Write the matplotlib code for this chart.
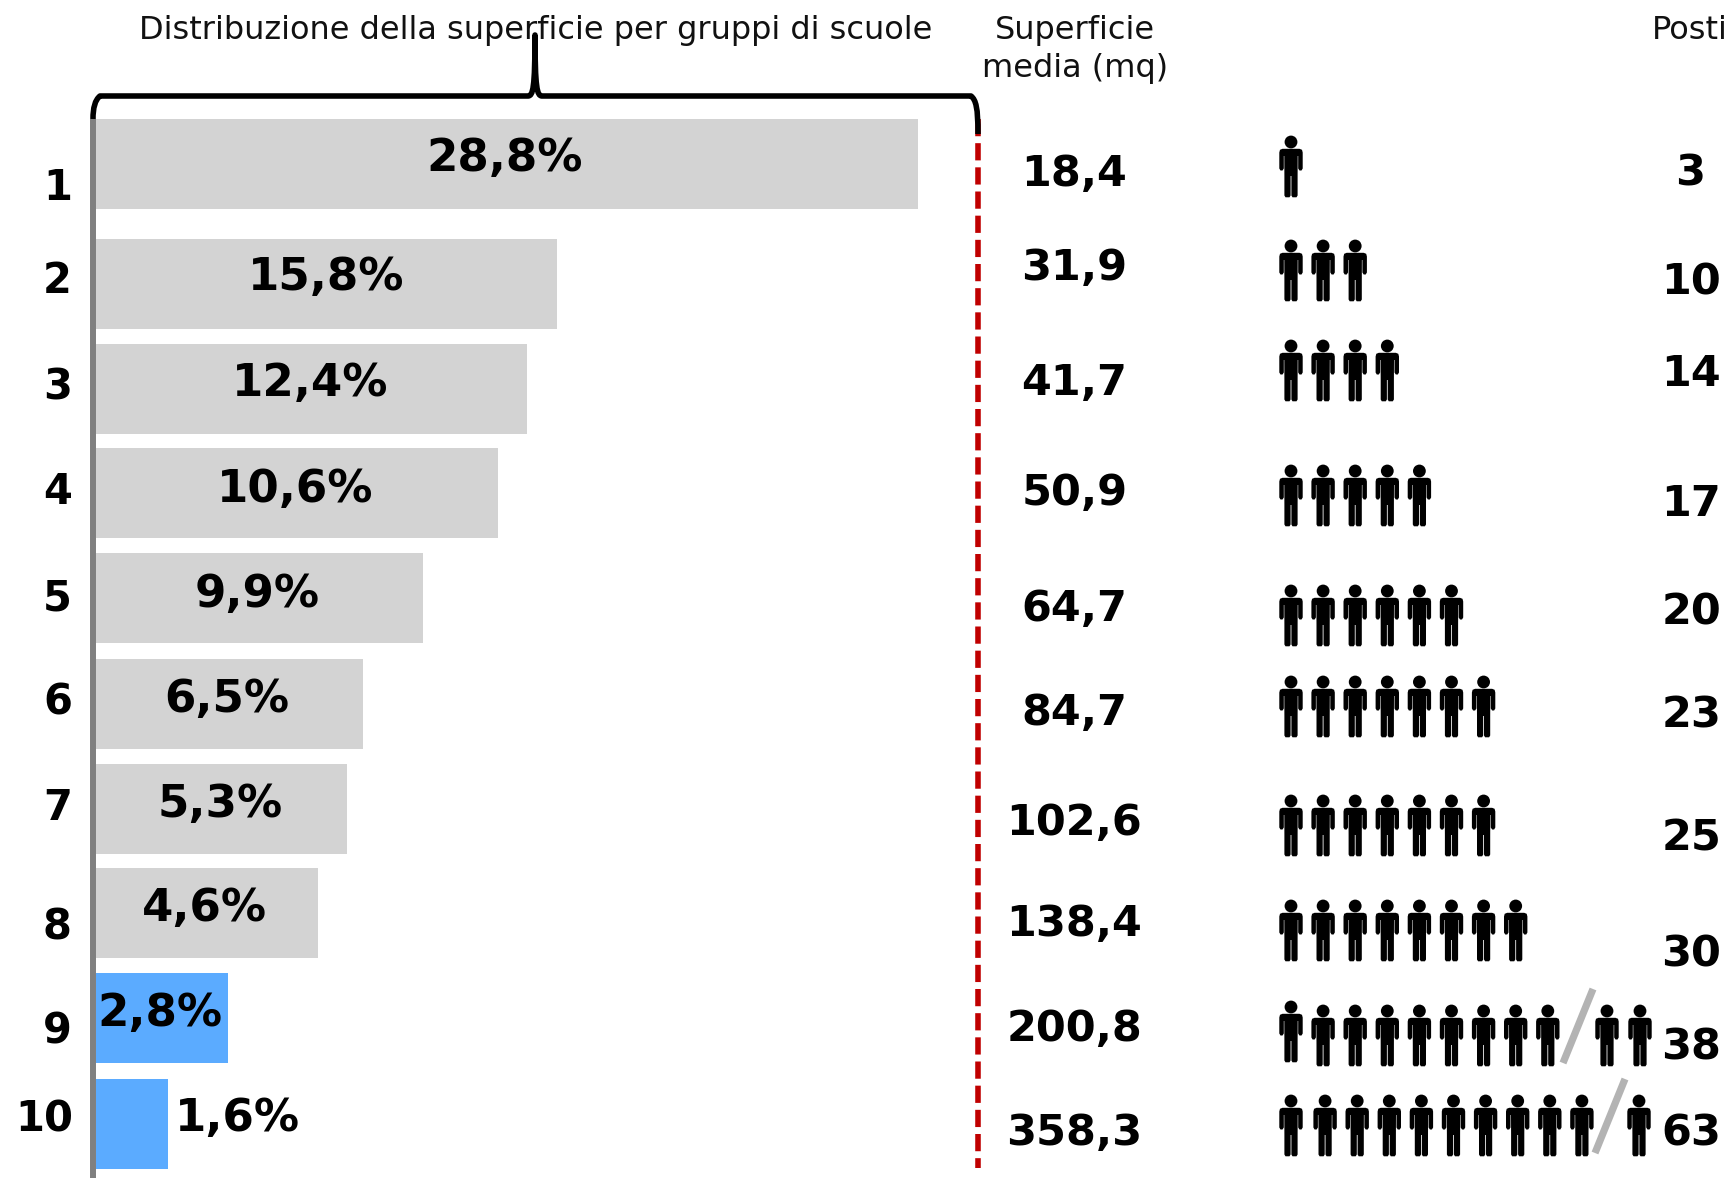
import matplotlib
matplotlib.use("Agg")
import matplotlib.pyplot as plt
from matplotlib.path import Path
from matplotlib.patches import PathPatch, Circle
from matplotlib.transforms import Affine2D

W, H = 1731, 1178
S = 1.104  # layout positions below were read on a 1568-wide view

groups = ["1", "2", "3", "4", "5", "6", "7", "8", "9", "10"]
share_labels = ["28,8%", "15,8%", "12,4%", "10,6%", "9,9%", "6,5%", "5,3%", "4,6%", "2,8%", "1,6%"]
bar_lengths = [28.8, 16.15, 15.1, 14.1, 11.45, 9.35, 8.8, 7.78, 4.62, 2.53]
surface = ["18,4", "31,9", "41,7", "50,9", "64,7", "84,7", "102,6", "138,4", "200,8", "358,3"]
seats = ["3", "10", "14", "17", "20", "23", "25", "30", "38", "63"]
people_before = [1, 3, 4, 5, 6, 7, 7, 8, 9, 10]
people_after = [0, 0, 0, 0, 0, 0, 0, 0, 2, 1]

bar_colors = ["#D3D3D3"] * 8 + ["#5BABFF"] * 2
bar_y = [148.5, 257.5, 352.5, 447, 542, 637.5, 732.5, 827, 922.5, 1018]
group_pos = [(52, 168), (52, 252), (52, 348), (52, 443), (52, 539), (52, 634), (52, 729), (52, 837), (52, 932), (40, 1011)]
share_pos = [(457, 141), (295, 249), (281, 345), (267, 441), (233, 536), (205, 631), (199, 726), (185, 821), (145, 916), (215, 1011)]
surface_y = [155, 240, 344, 444, 549, 643, 743, 834, 929, 1024]
seats_pos = [(1531, 154), (1532, 253), (1532, 336), (1532, 454), (1532, 552), (1532, 645), (1532, 757), (1532, 862), (1532, 946), (1532, 1024)]
people_top = [136, 240, 340, 465, 585, 676, 795, 900, 1005, 1095]

plt.rcParams["font.family"] = ["DejaVu Sans"]
fig = plt.figure(figsize=(W / 100, H / 100), dpi=100, facecolor="white")

# bars
BAR_L, BAR_R = 96, 918
axb = fig.add_axes([BAR_L / W, 0, (BAR_R - BAR_L) / W, 1])
axb.set_xlim(0, bar_lengths[0])
axb.set_ylim(H, 0)
axb.axis("off")
axb.barh([y * S for y in bar_y], bar_lengths, height=90, color=bar_colors, linewidth=0)

# overlay in pixels
ax = fig.add_axes([0, 0, 1, 1])
ax.set_xlim(0, W)
ax.set_ylim(H, 0)
ax.axis("off")
ax.patch.set_alpha(0)

ax.plot([93, 93], [119, H], color="#808080", lw=4.3, solid_capstyle="butt", zorder=2)
ax.plot([978, 978], [119, 1168], color="#C00000", lw=4, dashes=(3.1, 1.25), zorder=2)

brace = Path(
    [(93, 119), (93, 108), (95, 100), (100, 96), (528, 96), (533, 96), (535, 88), (535, 35),
     (535, 88), (537, 96), (542, 96), (971, 96), (976, 100), (978, 108), (978, 134)],
    [Path.MOVETO, Path.CURVE4, Path.CURVE4, Path.CURVE4, Path.LINETO, Path.CURVE4, Path.CURVE4, Path.CURVE4,
     Path.CURVE4, Path.CURVE4, Path.CURVE4, Path.LINETO, Path.CURVE4, Path.CURVE4, Path.CURVE4],
)
ax.add_patch(PathPatch(brace, fc="none", ec="black", lw=4, capstyle="butt", joinstyle="round", zorder=3))

BOLD = dict(fontweight="bold", color="black", ha="center", va="baseline")
for lab, (x, y) in zip(groups, group_pos):
    ax.text(x * S, y * S + 15, lab, fontsize=30, **BOLD)
for lab, (x, y) in zip(share_labels, share_pos):
    ax.text(x * S, y * S + 15, lab, fontsize=32.5, **BOLD)
for lab, y in zip(surface, surface_y):
    ax.text(973 * S, y * S + 15, lab, fontsize=31, **BOLD)
for lab, (x, y) in zip(seats, seats_pos):
    ax.text(x * S, y * S + 15, lab, fontsize=31, **BOLD)

HEAD = dict(fontsize=23, color="#111111", ha="center", va="center")
ax.text(485 * S, 28 * S, "Distribuzione della superficie per gruppi di scuole", **HEAD)
ax.text(974 * S, 28 * S, "Superficie", **HEAD)
ax.text(974 * S, 62 * S, "media (mq)", **HEAD)
ax.text(1496 * S, 28 * S, "Posti", fontsize=23, color="#111111", ha="left", va="center")

body = [(-8.5, 12.8), (8.5, 12.8), (11, 13.8), (11.7, 16.5), (11.7, 32.5), (10.5, 34.5), (8.5, 34.5), (7.2, 32.5), (7.2, 20),
        (6.7, 20), (6.6, 40), (6.6, 59.5), (5.5, 61.3), (1.5, 61.3), (0.4, 59.5), (0.4, 40), (-0.4, 40), (-0.4, 59.5), (-1.5, 61.3),
        (-5.5, 61.3), (-6.6, 59.5), (-6.6, 40), (-6.7, 20), (-7.2, 20), (-7.2, 32.5), (-8.5, 34.5), (-10.5, 34.5), (-11.7, 32.5),
        (-11.7, 16.5), (-11, 13.8), (-8.5, 12.8)]
person_path = Path(body, closed=True)


def person(cx, top):
    ax.add_patch(PathPatch(person_path, fc="black", ec="none",
                           transform=Affine2D().translate(cx, top) + ax.transData, zorder=4))
    ax.add_patch(Circle((cx, top + 6), 6.4, fc="black", ec="none", zorder=4))


FIRST, STEP = 1291, 32.1
AFTER_X = {8: [1607, 1640], 9: [1639]}
SLASH = {8: ((1563, 1063), (1593, 989)), 9: ((1595, 1153), (1625, 1079))}
for i, (n, m, top) in enumerate(zip(people_before, people_after, people_top)):
    for k in range(n):
        shift = -4 if (i == 8 and k == 0) else 0
        person(FIRST + k * STEP + (2 if i == 9 and k > 0 else 0), top + shift)
    for k in range(m):
        person(AFTER_X[i][k], top)
    if i in SLASH:
        (x0, y0), (x1, y1) = SLASH[i]
        ax.plot([x0, x1], [y0, y1], color="#B3B3B3", lw=5.2, solid_capstyle="butt", zorder=3)

fig.savefig("out.png", dpi=100)
